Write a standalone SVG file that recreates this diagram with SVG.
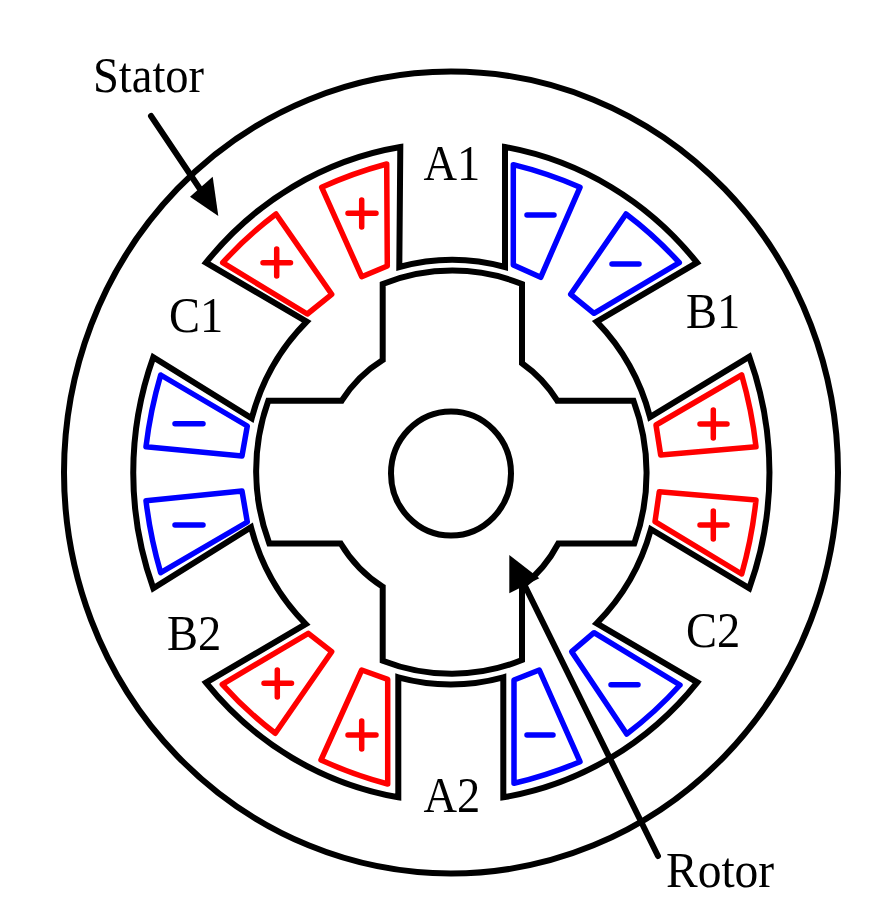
<svg xmlns="http://www.w3.org/2000/svg" width="876" height="922" viewBox="0 0 876 922">
<style>
.k{fill:none;stroke:#000;stroke-width:6;stroke-linejoin:miter;stroke-miterlimit:4}
.r{fill:none;stroke:#f00;stroke-width:5.500;stroke-linejoin:round;stroke-linecap:round}
.b{fill:none;stroke:#00f;stroke-width:5.500;stroke-linejoin:round;stroke-linecap:round}
.t{font-family:"Liberation Serif","Times New Roman",serif;font-size:46.500px;fill:#000}
.a{fill:none;stroke:#000;stroke-width:6;stroke-linecap:round}
</style>
<rect width="876" height="922" fill="#fff"/>
<g id="stator">
<ellipse class="k" cx="451" cy="472.500" rx="387" ry="401"/>
<path class="k" d="M505,147A319,331 0 0 1 697,262.700L596.700,321.700A206,213 0 0 1 650,417L749.300,356.700A319,331 0 0 1 749.300,588.300L651,529.300A206,213 0 0 1 596.700,623.300L697.300,682.300A319,331 0 0 1 503.300,797.300L503.300,677.300A206,213 0 0 1 398.300,677.300L398.300,797.300A319,331 0 0 1 206,682.700L305.700,624A206,213 0 0 1 251,527.300L153.300,588.300A319,331 0 0 1 153.300,357.300L251.700,418.300A206,213 0 0 1 306.700,321.700L206,262.700A319,331 0 0 1 400.300,147L399.300,267A206,213 0 0 1 505,267Z"/>
</g>
<g id="rotor">
<path class="k" d="M382.700,284A194,201 0 0 1 522,284L522,363.300A127,132 0 0 1 557.300,400.700L633.500,400.700A194,201 0 0 1 634.300,543.500L558.300,543.500A127,132 0 0 1 522,586.700L522,660A194,201 0 0 1 382.700,660.700L382.700,586.700A127,132 0 0 1 340.700,543.500L269.300,543.500A194,201 0 0 1 268.300,400.700L341.700,400.700A127,132 0 0 1 382.700,360Z"/>
<ellipse id="shaft" class="k" cx="451" cy="473.500" rx="60" ry="62"/>
</g>
<g id="coils-red">
<path class="r" d="M386.700,164A420,430 0 0 0 321.700,187.300L361.700,276.700L387.300,266Z"/>
<path class="r" d="M276,214A380,390 0 0 0 222.700,262.700L307.300,314L331.700,294.300Z"/>
<path class="r" d="M741.700,375A420,430 0 0 1 756,446.700L660.700,455L656,425Z"/>
<path class="r" d="M756,500A420,430 0 0 1 741.700,574L655,521.700L659.300,491.700Z"/>
<path class="r" d="M308.300,633.300L331.700,651.700L275.300,733.300A380,390 0 0 1 222.300,684.300Z"/>
<path class="r" d="M361.700,670L387.700,679.300L387.700,784A420,430 0 0 1 321,760Z"/>
<path class="r" d="M348,213.300H376M361.700,200V227"/>
<path class="r" d="M263,262.700H290.500M276.700,249V276"/>
<path class="r" d="M700,424H727M713.300,410V438"/>
<path class="r" d="M700,525H727M713.300,511V539"/>
<path class="r" d="M264,683.300H291.500M277.300,670V697"/>
<path class="r" d="M348,735H376M361.700,721V749"/>
</g>
<g id="coils-blue">
<path class="b" d="M513.300,164.700A420,430 0 0 1 580,187.300L540.700,277.300L513.300,265Z"/>
<path class="b" d="M626,214A380,390 0 0 1 679.300,262.700L594,313.300L570.700,294.300Z"/>
<path class="b" d="M160.700,375L247.300,426L242,456L146,446.700A420,430 0 0 1 160.700,375Z"/>
<path class="b" d="M146,500.700L242,491L247.300,522L160.700,572.700A420,430 0 0 1 146,500.700Z"/>
<path class="b" d="M539.300,670L514,680L514,783.300A420,430 0 0 0 580,761.700Z"/>
<path class="b" d="M594,632.700L680,685A380,390 0 0 1 626.700,734L571.700,651.700Z"/>
<path class="b" d="M527,215H554"/>
<path class="b" d="M612,264H639"/>
<path class="b" d="M175,423.700H203"/>
<path class="b" d="M175,525H203"/>
<path class="b" d="M611,684.700H638"/>
<path class="b" d="M527,735H553"/>
</g>
<g id="connectors">
<path class="a" d="M151,116L202,192"/>
<polygon points="218.300,216 212.700,176.700 190,196.700"/>
<path class="a" d="M658,856L524,584"/>
<polygon points="509.300,555 509.300,593.300 539.300,578.300"/>
</g>
<g id="labels">
<text class="t" transform="translate(93,92) scale(1,1.070)">Stator</text>
<text class="t" transform="translate(423.500,180) scale(1,1.070)">A1</text>
<text class="t" transform="translate(686,328) scale(1,1.070)">B1</text>
<text class="t" transform="translate(169,332) scale(1,1.070)">C1</text>
<text class="t" transform="translate(167,650) scale(1,1.070)">B2</text>
<text class="t" transform="translate(686,647) scale(1,1.070)">C2</text>
<text class="t" transform="translate(423.500,812) scale(1,1.070)">A2</text>
<text class="t" transform="translate(666,887) scale(1,1.070)" style="font-size:47.500px">Rotor</text>
</g>
</svg>
